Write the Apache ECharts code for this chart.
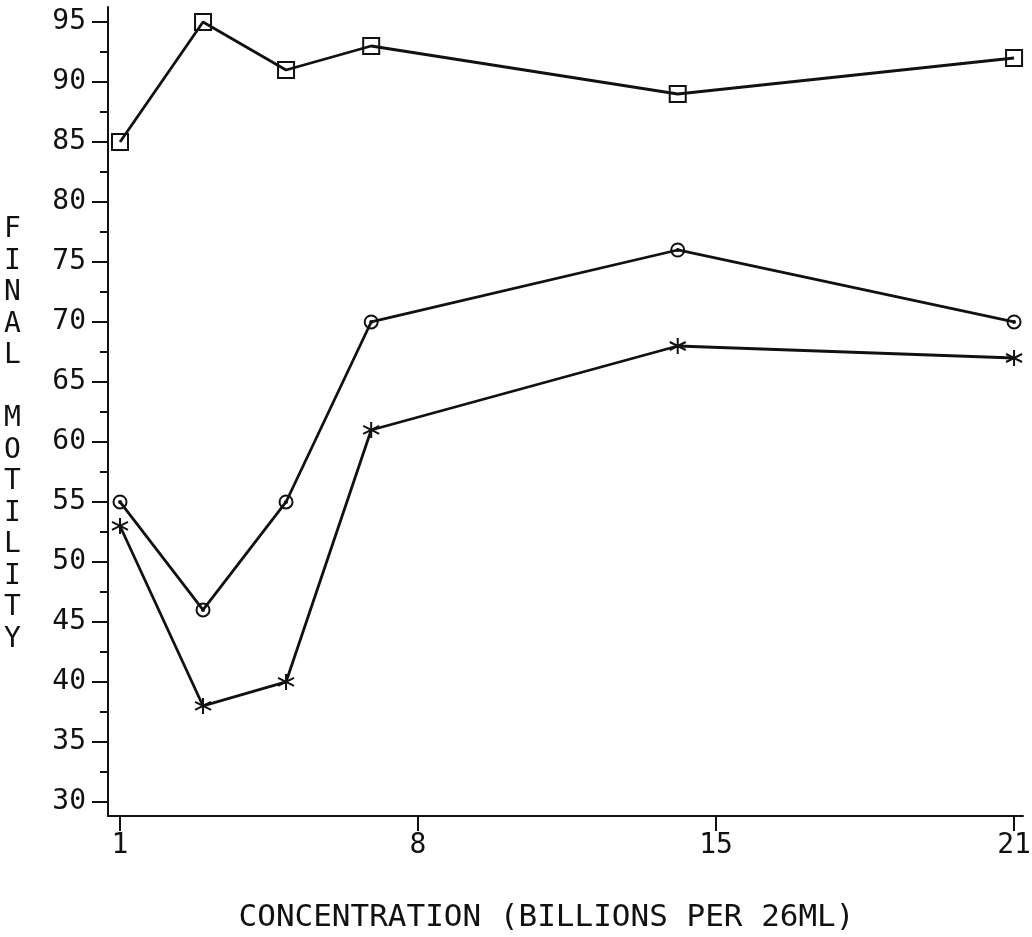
<!DOCTYPE html>
<html>
<head>
<meta charset="utf-8">
<title>Final motility</title>
<script src="https://cdn.jsdelivr.net/npm/echarts@6/dist/echarts.min.js"></script>
<style>
    html, body { margin: 0; padding: 0; background: #fff; }
    #chart { width: 1032px; height: 937px; }
</style>
</head>
<body>
<div id="chart"></div>
<script>
// concentration where each series was measured
var xValues = [1, 2.95, 4.9, 6.9, 14.1, 22];
// final motility for the three groups
var squareValues = [85, 95, 91, 93, 89, 92];
var circleValues = [55, 46, 55, 70, 76, 70];
var starValues = [53, 38, 40, 61, 68, 67];
// axis ticks (the plot labels its last tick "21")
var xTickValues = [1, 8, 15, 22];
var xTickLabels = ['1', '8', '15', '21'];
var yTickValues = [30, 35, 40, 45, 50, 55, 60, 65, 70, 75, 80, 85, 90, 95];
var yMinorValues = [32.5, 37.5, 42.5, 47.5, 52.5, 57.5, 62.5, 67.5, 72.5, 77.5, 82.5, 87.5, 92.5];

var FONT = '"DejaVu Sans Mono", "Liberation Mono", monospace';
var INK = '#111';

var chart_page = {
    chart : null,
    /**
     * 页面初始化
     */
    init : function() {
        this.chart = echarts.init(document.getElementById('chart'), null, { renderer : 'canvas' });
        this.chart.setOption(this.buildOption());
    },
    pairs : function(values) {
        var list = [];
        for (var i = 0; i < values.length; i++) {
            list.push([xValues[i], values[i]]);
        }
        return list;
    },
    lineSeries : function(name, values, symbol, size) {
        return {
            name : name,
            type : 'line',
            data : this.pairs(values),
            symbol : symbol,
            symbolSize : size,
            showAllSymbol : true,
            animation : false,
            lineStyle : { color : INK, width : 2.8 },
            itemStyle : { color : 'rgba(0,0,0,0)', borderColor : INK, borderWidth : 2 },
            z : 3
        };
    },
    buildOption : function() {
        // plotter style markers
        var star = 'path://M0,-10 L0,10 M-8.7,-5 L8.7,5 M-8.7,5 L8.7,-5';
        var dotCircle = 'path://M10,0 A10,10 0 1,1 -10,0 A10,10 0 1,1 10,0 Z M1.5,0 A1.5,1.5 0 1,1 -1.5,0 A1.5,1.5 0 1,1 1.5,0 Z';
        return {
            backgroundColor : '#fff',
            animation : false,
            grid : {
                left : 108,
                right : 9,
                top : 7,
                bottom : 121,
                outerBoundsMode : 'none'
            },
            xAxis : {
                type : 'value',
                min : 0.718,
                max : 22.21,
                name : 'CONCENTRATION (BILLIONS PER 26ML)',
                nameLocation : 'middle',
                nameGap : 86,
                nameTextStyle : { fontFamily : FONT, fontSize : 31, color : INK, padding : [0, 38, 0, 0] },
                splitLine : { show : false },
                axisLine : { show : true, lineStyle : { color : INK, width : 2 } },
                axisTick : { show : true, customValues : xTickValues, length : 15, lineStyle : { color : INK, width : 2 } },
                axisLabel : {
                    customValues : xTickValues,
                    margin : 16,
                    fontFamily : FONT,
                    fontSize : 28,
                    color : INK,
                    formatter : function(v) {
                        var idx = xTickValues.indexOf(v);
                        return idx >= 0 ? xTickLabels[idx] : '';
                    }
                }
            },
            yAxis : [ {
                type : 'value',
                min : 28.83,
                max : 96.25,
                splitLine : { show : false },
                axisLine : { show : true, lineStyle : { color : INK, width : 2 } },
                axisTick : { show : true, customValues : yTickValues, length : 16, lineStyle : { color : INK, width : 2 } },
                axisLabel : { customValues : yTickValues, margin : 22, fontFamily : FONT, fontSize : 28, color : INK }
            }, {
                // minor ticks only
                type : 'value',
                position : 'left',
                min : 28.83,
                max : 96.25,
                splitLine : { show : false },
                axisLine : { show : false },
                axisTick : { show : true, customValues : yMinorValues, length : 8, lineStyle : { color : INK, width : 2 } },
                axisLabel : { show : false }
            } ],
            graphic : [ {
                type : 'text',
                left : 4,
                top : 214,
                style : {
                    text : 'F\nI\nN\nA\nL\n \nM\nO\nT\nI\nL\nI\nT\nY',
                    font : '28px ' + FONT,
                    lineHeight : 31.5,
                    fill : INK,
                    align : 'center'
                }
            } ],
            series : [
                this.lineSeries('square', squareValues, 'rect', 16),
                this.lineSeries('circle', circleValues, dotCircle, 13),
                this.lineSeries('star', starValues, star, 16)
            ]
        };
    }
};

chart_page.init();
</script>
</body>
</html>
